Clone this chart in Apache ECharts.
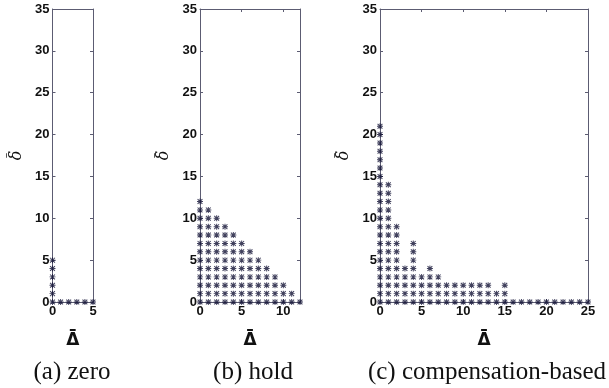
<!DOCTYPE html>
<html>
<head>
<meta charset="utf-8">
<script src="https://cdn.jsdelivr.net/npm/echarts@6/dist/echarts.min.js"></script>
<style>
html,body{margin:0;padding:0;background:#fff}
#chart{width:609px;height:388px}
</style>
</head>
<body>
<div id="chart"></div>
<script>
//每一列星号的最高点 (下标 = Δ̄)
var zeroTop = [5, 0, 0, 0, 0, 0];
var holdTop = [12, 11, 10, 9, 8, 7, 6, 5, 4, 3, 2, 1, 0];
var compTop = [21, 14, 9, 4, 7, 3, 4, 3, 2, 2, 2, 2, 2, 2, 1, 2, 0, 0, 0, 0, 0, 0, 0, 0, 0, 0];

//坐标轴
var xMaxList = [5, 12, 25];
var yTickLabels = [0, 5, 10, 15, 20, 25, 30, 35];
var xTickLabels = [0, 5, 10, 15, 20, 25];
var captions = ['(a) zero', '(b) hold', '(c) compensation-based'];

//面板位置
var panels = [
    {left: 49, width: 44, cx: 67},
    {left: 200, width: 100, cx: 248},
    {left: 380, width: 208, cx: 482}
];

var starPath = 'path://M4.2 0L5.8 0L5.8 10L4.2 10Z M0 4.2L10 4.2L10 5.8L0 5.8Z' +
    'M1.6 0.4L9.6 8.4L8.4 9.6L0.4 1.6Z M8.4 0.4L9.6 1.6L1.6 9.6L0.4 8.4Z';
var lineColor = '#5c5c72';
var starColor = '#121234';

function toPoints(tops) {
    var pts = [];
    for (var x = 0; x < tops.length; x++) {
        for (var y = 0; y <= tops[x]; y++) {
            pts.push([x, y]);
        }
    }
    return pts;
}

var allTops = [zeroTop, holdTop, compTop];
var grids = [], xAxes = [], yAxes = [], series = [], titles = [];

for (var i = 0; i < 3; i++) {
    grids.push({left: panels[i].left, top: 9, width: panels[i].width, height: 293, show: false});

    //下方 x 轴
    xAxes.push({
        gridIndex: i, type: 'value', min: 0, max: xMaxList[i], interval: 5, position: 'bottom',
        name: '{b|–}\n{s|Δ}', nameLocation: 'middle', nameGap: 14,
        nameTextStyle: {
            align: 'center',
            rich: {
                b: {fontFamily: 'DejaVu Sans', fontWeight: 'bold', fontSize: 15, lineHeight: 7, color: '#111', align: 'center'},
                s: {fontFamily: 'DejaVu Sans', fontWeight: 'bold', fontSize: 17, lineHeight: 14, color: '#111', align: 'center'}
            }
        },
        axisLine: {onZero: false, lineStyle: {color: lineColor, width: 1}},
        axisTick: {inside: true, length: 3, lineStyle: {color: lineColor}},
        axisLabel: {
            margin: 3, fontFamily: 'Liberation Sans', fontWeight: 'bold', fontSize: 13, color: '#111',
            formatter: function (v) { return xTickLabels.indexOf(v) >= 0 ? String(v) : ''; }
        },
        splitLine: {show: false}
    });
    //上方镜像 x 轴
    xAxes.push({
        gridIndex: i, type: 'value', min: 0, max: xMaxList[i], interval: 5, position: 'top',
        axisLine: {onZero: false, lineStyle: {color: lineColor, width: 1}},
        axisTick: {inside: true, length: 3, lineStyle: {color: lineColor}},
        axisLabel: {show: false},
        splitLine: {show: false}
    });
    //左侧 y 轴
    yAxes.push({
        gridIndex: i, type: 'value', min: 0, max: 35, interval: 5, position: 'left',
        name: '{b|–}\n{s|δ}', nameLocation: 'middle', nameRotate: 90, nameGap: 29,
        nameTextStyle: {
            align: 'center',
            rich: {
                b: {fontFamily: 'DejaVu Serif', fontSize: 11, lineHeight: 6, color: '#111', align: 'center'},
                s: {fontFamily: 'DejaVu Serif', fontStyle: 'italic', fontSize: 16, lineHeight: 14, color: '#111', align: 'center'}
            }
        },
        axisLine: {onZero: false, lineStyle: {color: lineColor, width: 1}},
        axisTick: {inside: true, length: 3, lineStyle: {color: lineColor}},
        axisLabel: {
            margin: 3, fontFamily: 'Liberation Sans', fontWeight: 'bold', fontSize: 13, color: '#111',
            formatter: function (v) { return yTickLabels.indexOf(v) >= 0 ? String(v) : ''; }
        },
        splitLine: {show: false}
    });
    //右侧镜像 y 轴
    yAxes.push({
        gridIndex: i, type: 'value', min: 0, max: 35, interval: 5, position: 'right',
        axisLine: {onZero: false, lineStyle: {color: lineColor, width: 1}},
        axisTick: {inside: true, length: 3, lineStyle: {color: lineColor}},
        axisLabel: {show: false},
        splitLine: {show: false}
    });

    series.push({
        type: 'scatter',
        xAxisIndex: i * 2,
        yAxisIndex: i * 2,
        data: toPoints(allTops[i]),
        symbol: starPath,
        symbolSize: 6,
        itemStyle: {color: starColor},
        clip: false,
        z: 3
    });

    titles.push({
        text: captions[i],
        left: panels[i].cx,
        top: 355,
        textAlign: 'center',
        textStyle: {fontFamily: 'Liberation Serif', fontWeight: 'normal', fontSize: 25, color: '#111'}
    });
}

var myChart = echarts.init(document.getElementById('chart'));
myChart.setOption({
    animation: false,
    backgroundColor: '#fff',
    title: titles,
    grid: grids,
    xAxis: xAxes,
    yAxis: yAxes,
    series: series
});
</script>
</body>
</html>
